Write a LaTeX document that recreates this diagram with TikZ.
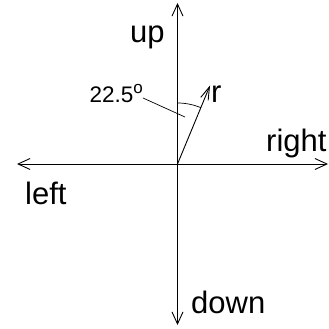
\documentclass[tikz,border=0pt]{standalone}
\usepackage{fontspec}
\setmainfont{Liberation Sans}
\usetikzlibrary{arrows.meta, positioning}

\begin{document}
\begin{tikzpicture}[
    x=1pt, y=1pt,
    axis/.style={line width=0.9pt, {Straight Barb[length=12pt, width=11pt]}-{Straight Barb[length=12pt, width=11pt]}},
    vec/.style={line width=0.9pt, -{Straight Barb[length=13pt, width=8pt]}},
    lbl/.style={anchor=base west, inner sep=0pt, font=\fontsize{31}{37}\selectfont},
    anglbl/.style={anchor=base west, inner sep=0pt, font=\fontsize{22.5}{27}\selectfont}
]
\useasboundingbox (-177.5,-165) rectangle (151.5,164);
% axes
\coordinate (o) at (0,0);
\coordinate (n) at (0,161);
\coordinate (s) at (0,-161);
\coordinate (w) at (-160.5,0);
\coordinate (e) at (150.5,0);
\coordinate (rtip) at (67.5:85);
\draw[axis] (s) -- (n);
\draw[axis] (w) -- (e);
\draw[vec] (o) -- (rtip);
% angle mark
\draw[line width=0.7pt] (0,61) arc[start angle=90, end angle=67.5, radius=61];
\node[anglbl] (ang) at (-88,61) {22.5\raisebox{9pt}{\fontsize{17}{20}\selectfont o}};
\coordinate (angpt) at (7.5,47);
\draw[line width=0.7pt] (-34.5,66) -- (angpt);
% labels
\node[lbl] (up) at (-47.5,121) {up};
\node[lbl] (left) at (-152.5,-41) {left};
\node[lbl] (right) at (88.5,12) {right};
\node[lbl] (down) at (13.5,-149) {down};
\node[lbl] (r) at (33.5,61) {r};
\end{tikzpicture}
\end{document}
